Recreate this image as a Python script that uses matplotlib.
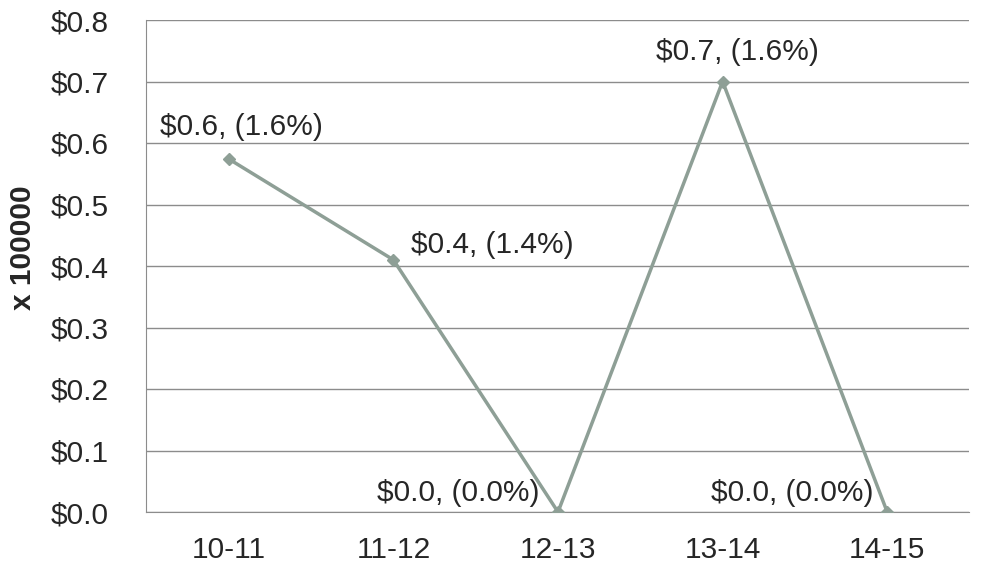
import matplotlib.pyplot as plt

plt.rcParams['font.family'] = ['Liberation Sans', 'DejaVu Sans']

# Data
years = ['10-11', '11-12', '12-13', '13-14', '14-15']
values = [0.574, 0.41, 0.0, 0.70, 0.0]
labels = ['$0.6, (1.6%)', '$0.4, (1.4%)', '$0.0, (0.0%)', '$0.7, (1.6%)', '$0.0, (0.0%)']
yticks = [0.0, 0.1, 0.2, 0.3, 0.4, 0.5, 0.6, 0.7, 0.8]

text_color = '#262626'
line_color = '#8e9f96'

fig = plt.figure(figsize=(9.87, 5.63), dpi=100)
ax = fig.add_axes([146.5 / 987, 51 / 563, 823 / 987, 492 / 563])

x = list(range(len(years)))
ax.plot(x, values, color=line_color, linewidth=2.5, marker='D', markersize=6, zorder=3)

# Data labels (offset in points, alignment)
offsets = [(9, 23, 'center'),
           (13, 11, 'left'),
           (-13, 14, 'right'),
           (11, 21, 'center'),
           (-10, 14, 'right')]
for xi, v, lab, (dx, dy, ha) in zip(x, values, labels, offsets):
    ax.annotate(lab, (xi, v), xytext=(dx, dy), textcoords='offset points',
                ha=ha, va='center', fontsize=21.5, color=text_color)

ax.set_xlim(-0.5, len(years) - 0.5)
ax.set_ylim(0, 0.8)
ax.set_xticks(x)
ax.set_xticklabels(years)
ax.set_yticks(yticks)
ax.set_yticklabels(['${:.1f}'.format(t) for t in yticks])
ax.tick_params(axis='both', length=0, labelsize=21.5, colors=text_color)
ax.tick_params(axis='x', pad=17)
ax.tick_params(axis='y', pad=27)

ax.yaxis.grid(True, color='#8c8c8c', linewidth=1)
ax.set_axisbelow(True)
for s in ['top', 'right']:
    ax.spines[s].set_visible(False)
ax.spines['left'].set_color('#8c8c8c')
ax.spines['bottom'].set_color('#8c8c8c')

ax.set_ylabel('x 100000', fontsize=21.5, fontweight='bold', color=text_color)
ax.yaxis.set_label_coords(-0.133, 0.538)

fig.savefig('out.png', dpi=100)
